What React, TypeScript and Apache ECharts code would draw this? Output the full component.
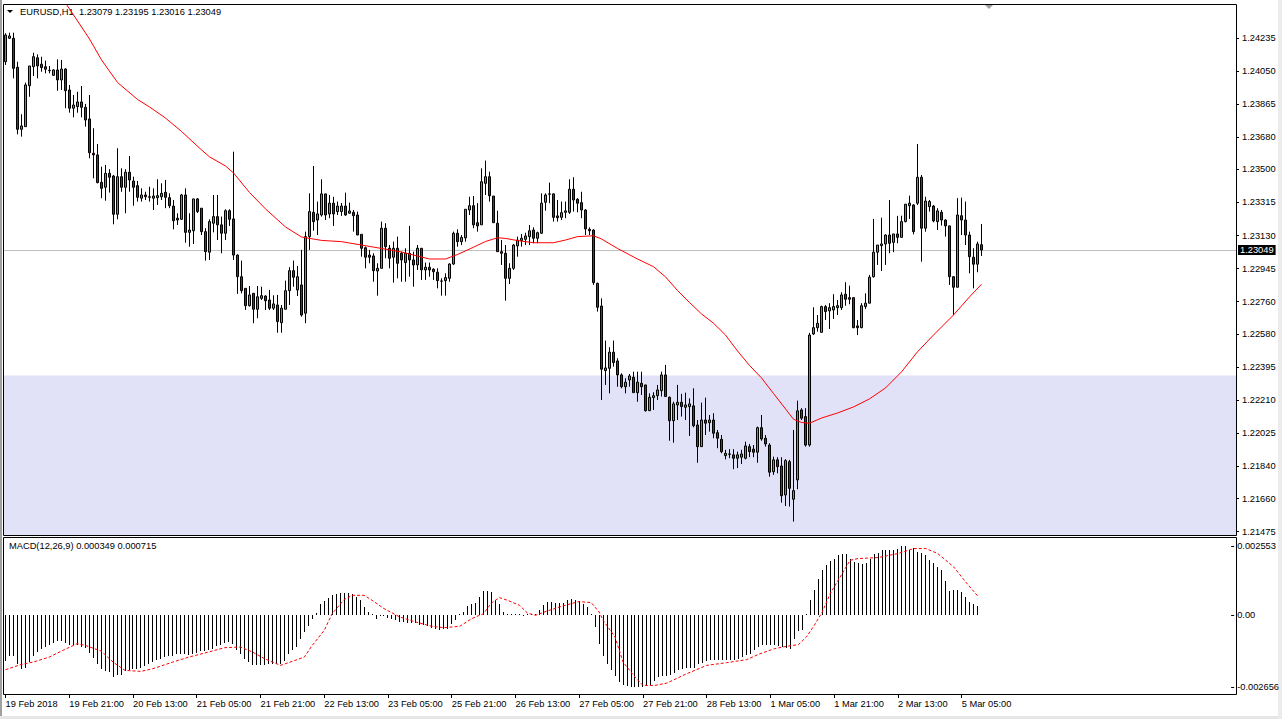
import React, { useEffect, useRef } from "react";
import * as echarts from "echarts";

const symbolName = "EURUSD,H1";
const macdName = "MACD(12,26,9)";

const tickLabels = [
  "19 Feb 2018", "19 Feb 21:00", "20 Feb 13:00", "21 Feb 05:00", "21 Feb 21:00", "22 Feb 13:00",
  "23 Feb 05:00", "25 Feb 21:00", "26 Feb 13:00", "27 Feb 05:00", "27 Feb 21:00", "28 Feb 13:00",
  "1 Mar 05:00", "1 Mar 21:00", "2 Mar 13:00", "5 Mar 05:00",
];

const priceTicks = [
  1.24235, 1.2405, 1.23865, 1.2368, 1.235, 1.23315, 1.2313, 1.22945, 1.2276, 1.2258, 1.22395,
  1.2221, 1.22025, 1.2184, 1.2166, 1.21475,
];
const macdTicks = [0.002553, 0, -0.002656];
const zoneTop = 1.22347;

const opens = [
  1.24102, 1.24233, 1.24233, 1.24071, 1.23724, 1.23739, 1.23968, 1.24074, 1.24124, 1.24088,
  1.24074, 1.24054, 1.24026, 1.24056, 1.24, 1.24061, 1.23944, 1.23842, 1.23851, 1.23877,
  1.23847, 1.23782, 1.2359, 1.23581, 1.23428, 1.234, 1.23478, 1.23463, 1.23249, 1.23459,
  1.234, 1.23484, 1.23435, 1.23409, 1.23339, 1.23357, 1.23347, 1.23339, 1.23342, 1.23347,
  1.23372, 1.23342, 1.23295, 1.23227, 1.23221, 1.23357, 1.23148, 1.23157, 1.23335, 1.23283,
  1.23152, 1.23037, 1.23199, 1.23236, 1.2319, 1.23143, 1.23269, 1.23223, 1.23021, 1.229,
  1.22835, 1.22738, 1.22807, 1.22718, 1.22779, 1.22792, 1.2277, 1.22724, 1.22742, 1.22643,
  1.22718, 1.22822, 1.22934, 1.22826, 1.22854, 1.22696, 1.23124, 1.2326, 1.23217, 1.23245,
  1.23363, 1.23251, 1.23311, 1.23264, 1.23264, 1.23295, 1.23255, 1.2326, 1.23245, 1.23137,
  1.23062, 1.23021, 1.23016, 1.22932, 1.22947, 1.23171, 1.23059, 1.23009, 1.23059, 1.23031,
  1.22979, 1.23031, 1.22994, 1.22966, 1.23059, 1.22938, 1.22953, 1.22942, 1.22925, 1.22876,
  1.22878, 1.22891, 1.22971, 1.23143, 1.23096, 1.23117, 1.23273, 1.23297, 1.23202, 1.2319,
  1.23422, 1.23459, 1.23351, 1.23199, 1.2304, 1.23031, 1.22891, 1.22947, 1.23072, 1.23102,
  1.23109, 1.23124, 1.23161, 1.23115, 1.23143, 1.23316, 1.23361, 1.23363, 1.2324, 1.23232,
  1.2326, 1.2326, 1.23389, 1.23333, 1.23314, 1.23273, 1.23165, 1.23161, 1.22863, 1.22736,
  1.22375, 1.22388, 1.22478, 1.22429, 1.22351, 1.22285, 1.22323, 1.22338, 1.22252, 1.22304,
  1.22295, 1.22151, 1.22224, 1.22235, 1.22263, 1.22351, 1.22226, 1.22095, 1.22183, 1.22198,
  1.2217, 1.22174, 1.22178, 1.22071, 1.2195, 1.22099, 1.22084, 1.22099, 1.22028, 1.21991,
  1.219, 1.21907, 1.21904, 1.21885, 1.21891, 1.21885, 1.2195, 1.21936, 1.21919, 1.22056,
  1.21997, 1.21959, 1.2181, 1.21876, 1.21842, 1.2168, 1.21866, 1.21656, 1.21764, 1.22155,
  1.22118, 1.21959, 1.2258, 1.22615, 1.22589, 1.22733, 1.22709, 1.22714, 1.22727, 1.22727,
  1.22802, 1.22783, 1.22783, 1.22625, 1.22615, 1.22733, 1.22752, 1.229, 1.23037, 1.23074,
  1.23083, 1.23133, 1.23092, 1.23139, 1.2312, 1.23208, 1.23297, 1.23301, 1.23311, 1.23456,
  1.23171, 1.23292, 1.23295, 1.23208, 1.2326, 1.23217, 1.23184, 1.229, 1.22841, 1.23241,
  1.23217, 1.23133, 1.23009, 1.2297, 1.23079,
];
const highs = [
  1.24261, 1.24264, 1.24264, 1.24102, 1.23808, 1.23985, 1.24078, 1.24152, 1.24143, 1.2413,
  1.24108, 1.24078, 1.2406, 1.24115, 1.24112, 1.24065, 1.23972, 1.23916, 1.23934, 1.23966,
  1.23866, 1.23916, 1.2373, 1.23642, 1.23515, 1.23525, 1.23501, 1.23469, 1.23618, 1.23506,
  1.23501, 1.23575, 1.23459, 1.23435, 1.23394, 1.23375, 1.23403, 1.23394, 1.23445, 1.23422,
  1.23441, 1.23366, 1.23329, 1.23255, 1.23363, 1.23394, 1.23255, 1.23335, 1.2334, 1.23283,
  1.23171, 1.23221, 1.23357, 1.23357, 1.23236, 1.23277, 1.23277, 1.23599, 1.23025, 1.2299,
  1.22835, 1.22848, 1.22807, 1.22848, 1.22844, 1.22796, 1.22826, 1.22796, 1.22798, 1.22742,
  1.22878, 1.22953, 1.2299, 1.2296, 1.2305, 1.23152, 1.23366, 1.23519, 1.2332, 1.23445,
  1.23363, 1.23357, 1.23347, 1.2332, 1.23312, 1.2337, 1.23314, 1.23273, 1.23264, 1.23137,
  1.23068, 1.2305, 1.23031, 1.22975, 1.23208, 1.23199, 1.23077, 1.23096, 1.23124, 1.2304,
  1.23059, 1.23184, 1.2304, 1.23077, 1.23059, 1.22979, 1.22979, 1.22947, 1.22947, 1.22891,
  1.22919, 1.22975, 1.23152, 1.23165, 1.23133, 1.23277, 1.23347, 1.23351, 1.23311, 1.23506,
  1.23549, 1.23487, 1.23351, 1.23269, 1.23105, 1.23077, 1.22975, 1.23083, 1.23124, 1.23139,
  1.23146, 1.23189, 1.23176, 1.23152, 1.23366, 1.23366, 1.23426, 1.23366, 1.23329, 1.2332,
  1.2332, 1.23445, 1.23456, 1.23339, 1.23375, 1.23277, 1.23176, 1.23165, 1.22867, 1.22779,
  1.22543, 1.22506, 1.22543, 1.22444, 1.2236, 1.22332, 1.22356, 1.22369, 1.22369, 1.22369,
  1.22295, 1.22248, 1.22254, 1.22295, 1.22369, 1.22407, 1.2223, 1.22201, 1.22295, 1.22245,
  1.22252, 1.2222, 1.22276, 1.22099, 1.22196, 1.22224, 1.22127, 1.22137, 1.22043, 1.22015,
  1.21932, 1.21936, 1.21936, 1.21922, 1.21932, 1.21978, 1.21965, 1.21959, 1.22062, 1.22127,
  1.22015, 1.21969, 1.21894, 1.21891, 1.21891, 1.2188, 1.21876, 1.22043, 1.22207, 1.22165,
  1.22165, 1.22586, 1.22729, 1.22686, 1.22738, 1.22742, 1.22752, 1.22802, 1.2277, 1.22813,
  1.22869, 1.2285, 1.22783, 1.22658, 1.22752, 1.22807, 1.2291, 1.23223, 1.23077, 1.2323,
  1.23137, 1.23329, 1.23139, 1.2324, 1.23241, 1.23307, 1.23353, 1.23305, 1.23642, 1.23469,
  1.23347, 1.23329, 1.23301, 1.23283, 1.23273, 1.23221, 1.23186, 1.22904, 1.23339, 1.23342,
  1.2332, 1.23152, 1.23059, 1.23096, 1.23195,
];
const lows = [
  1.24084, 1.24229, 1.24009, 1.23696, 1.23683, 1.23739, 1.23906, 1.24022, 1.24009, 1.24046,
  1.24037, 1.24037, 1.24022, 1.2394, 1.23944, 1.23842, 1.23817, 1.23791, 1.23817, 1.23791,
  1.23739, 1.23562, 1.2345, 1.23422, 1.23339, 1.23325, 1.2337, 1.23193, 1.23221, 1.23375,
  1.23255, 1.23375, 1.23297, 1.2332, 1.2332, 1.23329, 1.2332, 1.23273, 1.23301, 1.23329,
  1.23283, 1.23283, 1.23165, 1.23189, 1.23217, 1.2309, 1.23068, 1.23083, 1.23256, 1.23133,
  1.2299, 1.22994, 1.23148, 1.23105, 1.23031, 1.23105, 1.23184, 1.22994, 1.22804, 1.22807,
  1.22714, 1.22733, 1.2264, 1.22668, 1.2277, 1.22714, 1.22714, 1.22714, 1.22587, 1.22587,
  1.22718, 1.22742, 1.22844, 1.22792, 1.22677, 1.2264, 1.2305, 1.23157, 1.23133, 1.23236,
  1.23217, 1.23227, 1.23184, 1.23245, 1.2324, 1.2324, 1.23251, 1.23152, 1.23133, 1.23012,
  1.22947, 1.22975, 1.22872, 1.22794, 1.22947, 1.23003, 1.22947, 1.22867, 1.22891, 1.22872,
  1.22872, 1.229, 1.22844, 1.22938, 1.22882, 1.22882, 1.229, 1.22882, 1.22835, 1.22794,
  1.22794, 1.22872, 1.22966, 1.23068, 1.23077, 1.23096, 1.23245, 1.23171, 1.23152, 1.2319,
  1.23357, 1.2332, 1.23202, 1.2304, 1.22966, 1.22766, 1.22859, 1.22938, 1.23012, 1.23068,
  1.23077, 1.23077, 1.23087, 1.23087, 1.23139, 1.23269, 1.23311, 1.23208, 1.23208, 1.23217,
  1.23227, 1.23251, 1.23264, 1.2326, 1.23227, 1.23133, 1.23133, 1.22854, 1.22705, 1.22211,
  1.22295, 1.22248, 1.22397, 1.22285, 1.22276, 1.22248, 1.22285, 1.22252, 1.22201, 1.22239,
  1.22146, 1.22151, 1.22155, 1.22211, 1.2223, 1.2223, 1.21983, 1.21972, 1.22099, 1.22118,
  1.22099, 1.2201, 1.22058, 1.2186, 1.2195, 1.22015, 1.22034, 1.21997, 1.21941, 1.21913,
  1.21879, 1.21885, 1.21824, 1.2183, 1.21853, 1.21879, 1.21891, 1.21891, 1.2186, 1.21983,
  1.2195, 1.21782, 1.21792, 1.21801, 1.21637, 1.21618, 1.21615, 1.21531, 1.21712, 1.22099,
  1.2195, 1.2195, 1.22574, 1.22593, 1.22589, 1.22658, 1.22608, 1.22664, 1.22686, 1.22714,
  1.22738, 1.22746, 1.22612, 1.22574, 1.22612, 1.2272, 1.22752, 1.22895, 1.22966, 1.22932,
  1.22966, 1.23031, 1.23037, 1.23087, 1.23118, 1.23204, 1.23223, 1.23137, 1.23301, 1.22984,
  1.23152, 1.23264, 1.23204, 1.23161, 1.23186, 1.23124, 1.22854, 1.22686, 1.22841, 1.23133,
  1.23077, 1.22919, 1.22835, 1.22925, 1.23016,
];
const closes = [
  1.24251, 1.24246, 1.24065, 1.23724, 1.23743, 1.23972, 1.24078, 1.2413, 1.24078, 1.24069,
  1.2406, 1.24052, 1.24056, 1.24, 1.24061, 1.2394, 1.23842, 1.2386, 1.23877, 1.23847,
  1.23776, 1.23593, 1.23581, 1.23426, 1.23394, 1.23478, 1.23456, 1.23249, 1.23459, 1.234,
  1.23484, 1.23441, 1.234, 1.23344, 1.23357, 1.23347, 1.23344, 1.23351, 1.23353, 1.23366,
  1.23344, 1.23297, 1.23213, 1.23217, 1.23357, 1.23148, 1.23161, 1.23335, 1.23264, 1.23152,
  1.2304, 1.23208, 1.23236, 1.2319, 1.23143, 1.23269, 1.23221, 1.23021, 1.229, 1.22822,
  1.22738, 1.22798, 1.22718, 1.22788, 1.22794, 1.22766, 1.22724, 1.22748, 1.22649, 1.22724,
  1.22822, 1.22934, 1.22897, 1.229, 1.22686, 1.23124, 1.23264, 1.23208, 1.23251, 1.23363,
  1.23245, 1.23311, 1.23251, 1.23295, 1.23295, 1.23245, 1.23268, 1.23241, 1.23133, 1.23059,
  1.23009, 1.23009, 1.22934, 1.22947, 1.23171, 1.23068, 1.23003, 1.23059, 1.22975, 1.22994,
  1.23031, 1.22994, 1.22966, 1.23059, 1.22938, 1.22953, 1.22938, 1.22928, 1.22878, 1.22875,
  1.22895, 1.22971, 1.23143, 1.23096, 1.2312, 1.23277, 1.23297, 1.2319, 1.23184, 1.23431,
  1.23459, 1.23353, 1.23202, 1.2304, 1.23031, 1.22891, 1.22947, 1.23077, 1.23105, 1.23115,
  1.23128, 1.23157, 1.23115, 1.23146, 1.23311, 1.23357, 1.23363, 1.23232, 1.2323, 1.23258,
  1.23268, 1.23389, 1.23329, 1.23311, 1.23273, 1.23167, 1.23157, 1.22867, 1.22729, 1.22383,
  1.2239, 1.22478, 1.2242, 1.22351, 1.22285, 1.2231, 1.22345, 1.22252, 1.2231, 1.22285,
  1.22151, 1.22226, 1.22235, 1.22267, 1.22351, 1.2223, 1.22095, 1.22189, 1.22198, 1.22174,
  1.22183, 1.22189, 1.22067, 1.2195, 1.22099, 1.22081, 1.22099, 1.22025, 1.21997, 1.21922,
  1.21913, 1.21909, 1.21885, 1.21904, 1.21909, 1.21954, 1.21922, 1.21919, 1.22056, 1.21993,
  1.21965, 1.21807, 1.21876, 1.21838, 1.21676, 1.21872, 1.21717, 1.21704, 1.2215, 1.22109,
  1.21959, 1.22574, 1.22615, 1.2264, 1.22733, 1.22705, 1.22727, 1.22733, 1.22738, 1.22798,
  1.22774, 1.22774, 1.22615, 1.22615, 1.22738, 1.22752, 1.22897, 1.23037, 1.23077, 1.23083,
  1.23133, 1.23087, 1.23139, 1.2312, 1.23208, 1.23305, 1.23311, 1.23152, 1.23456, 1.23171,
  1.23323, 1.2332, 1.23212, 1.23268, 1.23217, 1.23184, 1.229, 1.22841, 1.23245, 1.23217,
  1.23133, 1.23012, 1.2297, 1.23083, 1.23049,
];

// moving average read at sampled bars: [bar index, price]
const maPoints = [
  [13, 1.2448], [15, 1.2443], [16, 1.24397], [18, 1.2433], [21, 1.24229], [24, 1.24112],
  [28, 1.23986], [33, 1.23891], [36, 1.23849], [40, 1.23787], [44, 1.23712], [49, 1.23609],
  [51, 1.2357], [55, 1.23519], [57, 1.2348], [61, 1.23371], [65, 1.23279], [70, 1.23178],
  [74, 1.23122], [79, 1.23103], [84, 1.23096], [89, 1.23077], [94, 1.23058], [99, 1.23038],
  [104, 1.2301], [106, 1.22999], [110, 1.22999], [113, 1.23024], [117, 1.23065], [120, 1.23097],
  [123, 1.23118], [125, 1.23114], [128, 1.23102], [132, 1.2309], [137, 1.2309], [140, 1.23105],
  [143, 1.23124], [147, 1.23129], [149, 1.23111], [153, 1.23058], [158, 1.22999], [162, 1.22956],
  [165, 1.22899], [168, 1.22823], [171, 1.22756], [174, 1.22692], [177, 1.2264], [180, 1.22574],
  [183, 1.22485], [186, 1.22404], [189, 1.22334], [192, 1.22247], [195, 1.22161], [197, 1.22103],
  [199, 1.22085], [201, 1.22081], [204, 1.2211], [208, 1.22138], [212, 1.22172], [216, 1.22217],
  [220, 1.22278], [224, 1.22368], [228, 1.2248], [232, 1.22574], [237, 1.22686], [241, 1.22787],
  [244, 1.22858],
];

const macdHist = [
  -0.001686, -0.001513, -0.001513, -0.001782, -0.001993, -0.00193, -0.001723, -0.001513, -0.001354, -0.001229,
  -0.00117, -0.001081, -0.001022, -0.000959, -0.000959, -0.001022, -0.001107, -0.001107, -0.001107, -0.00117,
  -0.001207, -0.001391, -0.001561, -0.001782, -0.001993, -0.002055, -0.002077, -0.002277, -0.002214, -0.002214,
  -0.002055, -0.002004, -0.001967, -0.001967, -0.00193, -0.001871, -0.001782, -0.001723, -0.001661, -0.001598,
  -0.001539, -0.001502, -0.001502, -0.001439, -0.001413, -0.001439, -0.00145, -0.001413, -0.001376, -0.001317,
  -0.001317, -0.001266, -0.001229, -0.001144, -0.001107, -0.001022, -0.000985, -0.001044, -0.001292, -0.001439,
  -0.001624, -0.001723, -0.001819, -0.001819, -0.001819, -0.001819, -0.001782, -0.001782, -0.001782, -0.001808,
  -0.001697, -0.001439, -0.001266, -0.00117, -0.00086, -0.000616, -0.000395, -0.000122, 0.0001, 0.000406,
  0.000528, 0.000653, 0.000738, 0.000801, 0.000838, 0.000838, 0.000838, 0.000775, 0.000675, 0.000554,
  0.000306, 0.000122, 0.00002, -0.000122, -0.000037, -0.000037, -0.0001, -0.000122, -0.000185, -0.000247,
  -0.000247, -0.000284, -0.000284, -0.000284, -0.000343, -0.000369, -0.000406, -0.000469, -0.000517, -0.000528,
  -0.000517, -0.000491, -0.000306, -0.000185, 0.000063, 0.000122, 0.000332, 0.000406, 0.000454, 0.000675,
  0.000897, 0.000897, 0.000849, 0.000579, 0.000406, 0.000122, 0.000015, 0.000015, 0.000015, 0.000015,
  -0.000005, 0.000015, 0.000015, 0.000037, 0.000185, 0.000369, 0.00048, 0.00048, 0.000454, 0.000454,
  0.000454, 0.000554, 0.00059, 0.000554, 0.000528, 0.000432, 0.000306, 0.00001, -0.000432, -0.00107,
  -0.001513, -0.001782, -0.00203, -0.002251, -0.002461, -0.002583, -0.00262, -0.002656, -0.002646, -0.00265,
  -0.00264, -0.00262, -0.002557, -0.002424, -0.002277, -0.002251, -0.002251, -0.002188, -0.002129, -0.00203,
  -0.001967, -0.00193, -0.00193, -0.00193, -0.001808, -0.00176, -0.001686, -0.001661, -0.001661, -0.001661,
  -0.001661, -0.001661, -0.001635, -0.001635, -0.001598, -0.001539, -0.001476, -0.001413, -0.001266, -0.00117,
  -0.001107, -0.001107, -0.001107, -0.001107, -0.001144, -0.00117, -0.001192, -0.001229, -0.00086, -0.000579,
  -0.000528, 0.000063, 0.000554, 0.000948, 0.001354, 0.001661, 0.001845, 0.002004, 0.002092, 0.002214,
  0.002251, 0.002251, 0.002092, 0.001967, 0.00193, 0.001908, 0.00193, 0.002092, 0.002251, 0.002299,
  0.002399, 0.002424, 0.002424, 0.002424, 0.002461, 0.002553, 0.00254, 0.002424, 0.002498, 0.002336,
  0.002299, 0.002214, 0.002055, 0.00193, 0.001782, 0.001661, 0.001266, 0.000886, 0.000923, 0.000923,
  0.00086, 0.000675, 0.000491, 0.000406, 0.000349,
];

// signal line read at sampled bars: [bar index, value]
const macdSignal = [
  [0, -0.002004], [4, -0.001808], [7, -0.001723], [11, -0.001539], [14, -0.00132], [18, -0.001044],
  [20, -0.001107], [24, -0.001317], [27, -0.001723], [30, -0.00203], [34, -0.002066], [37, -0.001967],
  [42, -0.001723], [46, -0.001539], [50, -0.001391], [55, -0.001192], [59, -0.00117], [62, -0.001354],
  [65, -0.001598], [69, -0.001845], [72, -0.001697], [75, -0.001539], [77, -0.001107], [80, -0.000554],
  [82, 0.000063], [85, 0.000579], [87, 0.000738], [90, 0.000738], [92, 0.000554], [95, 0.000247],
  [99, -0.000063], [103, -0.000247], [107, -0.000406], [110, -0.000454], [114, -0.000406], [117, -0.000122],
  [120, 0.000063], [122, 0.00046], [124, 0.000653], [126, 0.000554], [129, 0.000369], [131, 0.000085],
  [133, 0.0], [136, 0.000159], [139, 0.000306], [142, 0.000432], [144, 0.000506], [147, 0.000469],
  [149, 0.000122], [150, -0.000185], [153, -0.000801], [155, -0.001723], [158, -0.002277], [160, -0.002583],
  [163, -0.002583], [166, -0.002498], [171, -0.002151], [176, -0.001845], [181, -0.001745], [186, -0.001635],
  [189, -0.001439], [193, -0.001229], [196, -0.001144], [199, -0.001081], [201, -0.000801], [203, -0.000369],
  [205, 0.000122], [207, 0.000801], [210, 0.001539], [212, 0.00203], [214, 0.002092], [219, 0.002129],
  [224, 0.002277], [228, 0.002461], [231, 0.002461], [234, 0.002277], [238, 0.001782], [241, 0.001229],
  [244, 0.000715],
];

// layout / style
const TICK_EVERY = 16;
const X_MIN = -0.375; // bar 0 centre lands on a pixel centre
const X_MAX = 307.625; // 4 px per bar across a 1232 px plot
const FONT = 'Tahoma, "Liberation Sans", Arial, sans-serif';
const FS = 9.3;
const PRICE_MIN = 1.21456;
const PRICE_MAX = 1.24419;
const MACD_MIN = -0.0029;
const MACD_MAX = 0.00285;
const UP = "#00e000";
const DOWN = "#e00000";
const ZONE = "#e1e1f7";

export default function App() {
  const ref = useRef<HTMLDivElement>(null);

  useEffect(() => {
    const el = ref.current;
    if (!el) return;
    const chart = echarts.init(el, null, { renderer: "svg" });
    const candles = opens.map((o, i) => [i, o, closes[i], lows[i], highs[i]]);
    const hist = macdHist.map((v, i) => [i, v]);
    const tickPos = tickLabels.map((_, k) => k * TICK_EVERY);
    const last = opens.length - 1;
    const header = `${symbolName}  ${opens[last].toFixed(5)} ${highs[last].toFixed(5)} ${lows[last].toFixed(5)} ${closes[last].toFixed(5)}`;
    const macdHeader = `${macdName} ${macdHist[macdHist.length - 1].toFixed(6)} ${macdSignal[macdSignal.length - 1][1].toFixed(6)}`;

    const option: any = {
      animation: false,
      backgroundColor: "#ffffff",
      textStyle: { fontFamily: FONT },
      grid: [
        { left: 4, top: 5, width: 1232, height: 530, show: false, containLabel: false },
        { left: 4, top: 538, width: 1232, height: 156, show: false, containLabel: false },
      ],
      xAxis: [
        {
          type: "value", gridIndex: 0, min: X_MIN, max: X_MAX,
          axisLine: { show: false, onZero: false }, axisTick: { show: false }, axisLabel: { show: false }, splitLine: { show: false },
        },
        {
          type: "value", gridIndex: 1, min: X_MIN, max: X_MAX,
          axisLine: { show: false, onZero: false },
          axisTick: { show: true, customValues: tickPos, length: 4, lineStyle: { color: "#000" } },
          axisLabel: {
            show: true, customValues: tickPos, align: "left", margin: 5, fontSize: FS, color: "#000", fontFamily: FONT,
            formatter: (v: number) => tickLabels[Math.round(v / TICK_EVERY)] ?? "",
          },
          splitLine: { show: false },
        },
      ],
      yAxis: [
        {
          type: "value", gridIndex: 0, position: "right", min: PRICE_MIN, max: PRICE_MAX, scale: true,
          axisLine: { show: false, onZero: false }, splitLine: { show: false },
          axisTick: { show: true, customValues: priceTicks, length: 3, lineStyle: { color: "#000" } },
          axisLabel: { show: true, customValues: priceTicks, margin: 6, fontSize: FS, color: "#000", fontFamily: FONT, formatter: (v: number) => v.toFixed(5) },
        },
        {
          type: "value", gridIndex: 1, position: "right", min: MACD_MIN, max: MACD_MAX, scale: true,
          axisLine: { show: false, onZero: false }, splitLine: { show: false },
          axisTick: { show: true, customValues: macdTicks, length: 3, lineStyle: { color: "#000" } },
          axisLabel: {
            show: true, customValues: macdTicks, margin: 6, fontSize: FS, color: "#000", fontFamily: FONT,
            formatter: (v: number) => (v === 0 ? "0.00" : v.toFixed(6)),
          },
        },
      ],
      series: [
        {
          type: "candlestick", xAxisIndex: 0, yAxisIndex: 0, data: candles, barWidth: 2,
          encode: { x: 0, y: [1, 2, 3, 4] },
          itemStyle: { color: UP, color0: DOWN, borderColor: "#000", borderColor0: "#000", borderWidth: 1 },
          markArea: {
            silent: true, z: 1,
            itemStyle: { color: ZONE },
            data: [[{ yAxis: zoneTop }, { yAxis: PRICE_MIN }]],
          },
          markLine: {
            silent: true, symbol: ["none", "none"], z: 1, precision: 5,
            lineStyle: { color: "#c0c0c0", type: "solid", width: 1 },
            label: {
              show: true, position: "end", distance: 2, color: "#fff", backgroundColor: "#000",
              padding: [1, 2, 0, 2], fontSize: FS, fontFamily: FONT,
              formatter: (p: any) => Number(p.value).toFixed(5),
            },
            data: [{ yAxis: closes[last] }],
          },
        },
        {
          type: "line", xAxisIndex: 0, yAxisIndex: 0, data: maPoints, symbol: "none", smooth: false, z: 3,
          lineStyle: { color: "#ff0000", width: 1 }, clip: true,
        },
        {
          type: "custom", xAxisIndex: 1, yAxisIndex: 1, data: hist, z: 2,
          encode: { x: 0, y: 1 },
          renderItem: (_params: any, api: any) => {
            const x = api.value(0);
            const v = api.value(1);
            const p0 = api.coord([x, 0]);
            const p1 = api.coord([x, v]);
            const cx = Math.floor(p0[0]) + 0.5;
            let y0 = Math.round(p0[1]);
            let y1 = Math.round(p1[1]);
            if (Math.abs(y1 - y0) < 1) y1 = y0 + (v >= 0 ? -1 : 1);
            return {
              type: "line",
              shape: { x1: cx, y1: y0, x2: cx, y2: y1 },
              style: { stroke: "#000", lineWidth: 1 },
            };
          },
        },
        {
          type: "line", xAxisIndex: 1, yAxisIndex: 1, data: macdSignal, symbol: "none", z: 3,
          lineStyle: { color: "#ff0000", width: 1, type: [3, 2] },
        },
      ],
      graphic: [
        { type: "rect", z: 100, shape: { x: 3.5, y: 4.5, width: 1233, height: 531 }, style: { fill: "none", stroke: "#000", lineWidth: 1 }, silent: true },
        { type: "rect", z: 100, shape: { x: 3.5, y: 537.5, width: 1233, height: 157 }, style: { fill: "none", stroke: "#000", lineWidth: 1 }, silent: true },
        { type: "rect", shape: { x: 0, y: 0, width: 2, height: 719 }, style: { fill: "#a0a0a0" }, silent: true },
        { type: "rect", shape: { x: 0, y: 716, width: 1282, height: 3 }, style: { fill: "#e6e6e6" }, silent: true },
        { type: "rect", shape: { x: 1278, y: 0, width: 4, height: 719 }, style: { fill: "#ececec" }, silent: true },
        { type: "polygon", shape: { points: [[7, 10], [13, 10], [10, 13]] }, style: { fill: "#000" }, silent: true },
        { type: "text", x: 20, y: 7, style: { text: header, fill: "#000", font: `${FS}px ${FONT}` }, silent: true },
        { type: "text", x: 9, y: 541, style: { text: macdHeader, fill: "#000", font: `${FS}px ${FONT}` }, silent: true },
        { type: "polygon", shape: { points: [[984, 4], [994, 4], [989, 9]] }, style: { fill: "#a0a0a0" }, silent: true },
      ],
    };
    chart.setOption(option);
    return () => chart.dispose();
  }, []);

  return (
    <div
      ref={ref}
      style={{ position: "fixed", left: 0, top: 0, width: 1282, height: 719, background: "#fff" }}
    />
  );
}
